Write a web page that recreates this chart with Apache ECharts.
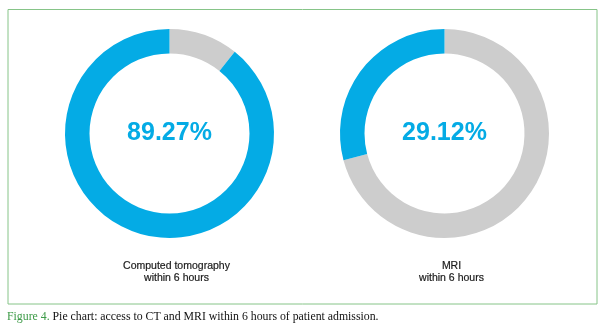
<!DOCTYPE html>
<html>
<head>
<meta charset="utf-8">
<script src="https://cdn.jsdelivr.net/npm/echarts@6/dist/echarts.min.js"></script>
<style>
html,body{margin:0;padding:0;background:#fff;}
#chart{width:605px;height:331px;}
</style>
</head>
<body>
<div id="chart"></div>
<script>
// Data
const categories = ['Computed tomography\nwithin 6 hours', 'MRI\nwithin 6 hours'];
const withinValues = [89.27, 29.12];
const outsideValues = [10.73, 70.88];
const captionLabel = 'Figure 4.';
const captionText = 'Pie chart: access to CT and MRI within 6 hours of patient admission.';

const BLUE = '#04abe5';
const GREY = '#cdcdcd';
const centers = [[169.5, 133.5], [444.5, 133.5]];

const chart = echarts.init(document.getElementById('chart'), null, {renderer: 'canvas'});

const series = categories.map((c, i) => ({
  type: 'pie',
  center: centers[i],
  radius: [80, 104.5],
  startAngle: 90,
  clockwise: true,
  silent: true,
  animation: false,
  avoidLabelOverlap: false,
  labelLine: {show: false},
  emphasis: {disabled: true},
  data: [
    {name: 'outside', value: outsideValues[i], itemStyle: {color: GREY}, label: {show: false}},
    {name: 'within', value: withinValues[i], itemStyle: {color: BLUE},
     label: {show: true, position: 'center', formatter: withinValues[i].toFixed(2) + '%',
       color: BLUE, fontSize: 25, fontFamily: 'Liberation Sans, Arial, sans-serif', fontWeight: 'bold',
       padding: [0, 0, 4, 0]}}
  ]
}));

const titles = categories.map((c, i) => ({
  text: c,
  left: centers[i][0] + 2,
  top: 255,
  textAlign: 'center',
  textStyle: {fontSize: 10.5, fontWeight: 'normal', color: '#1a1a1a', lineHeight: 12,
    fontFamily: 'Liberation Sans, Arial, sans-serif', textBorderColor: '#1a1a1a', textBorderWidth: 0.2}
}));

titles.push({
  text: '{g|' + captionLabel + ' }{b|' + captionText + '}',
  left: 2,
  top: 306,
  textStyle: {
    fontWeight: 'normal',
    rich: {
      g: {color: '#3c9a46', fontSize: 11.8, fontWeight: 'normal', fontFamily: 'Liberation Serif, Times New Roman, serif'},
      b: {color: '#111', fontSize: 11.8, fontWeight: 'normal', fontFamily: 'Liberation Serif, Times New Roman, serif'}
    }
  }
});

chart.setOption({
  animation: false,
  backgroundColor: '#fff',
  title: titles,
  graphic: [{
    type: 'rect',
    shape: {x: 8, y: 9.5, width: 589, height: 294.5},
    style: {fill: null, stroke: '#86c488', lineWidth: 1},
    silent: true
  }],
  series: series
});
</script>
</body>
</html>
